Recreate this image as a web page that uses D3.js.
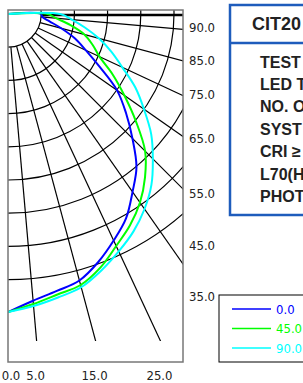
<!DOCTYPE html>
<html><head><meta charset="utf-8">
<script src="https://cdn.jsdelivr.net/npm/d3@7"></script>
<style>
html,body{margin:0;padding:0;background:#fff;overflow:hidden}
svg{display:block}
.ax{font-family:"Liberation Sans Narrow","Arial Narrow","DejaVu Sans Condensed",sans-serif;font-size:13px;fill:#222}
.info{font-family:"Liberation Sans",Arial,sans-serif;font-weight:bold;fill:#222}
</style></head><body>
<script>
// ---- data ----
const gammaAngles = [0,5,10,15,20,25,30,35,40,45,50,55,60,65,70,75,80,85,90];
const series0 = [89.8,86.7,84.7,83.1,79.5,75.3,71.1,65.4,60.2,53.0,46.4,40.1,31.9,25.9,21.4,16.6,12.7,10.4,9.9];
const series45 = [89.8,87.7,85.8,84.5,81.3,77.1,73.5,69.3,64.2,58.4,50.3,42.8,36.4,30.4,27.1,23.8,19.0,14.5,12.0];
const series90 = [89.8,88.3,86.7,85.2,82.2,78.9,75.6,71.7,67.2,61.7,56.3,50.0,44.3,38.0,33.1,28.3,23.5,19.3,15.7];
const seriesNames = ["0.0","45.0","90.0"];
const seriesColors = ["#0000ff","#00ff00","#00ffff"];
const ringValues = [10,20,30,40,50,60,70,80];
const spokeAngles = [5,15,25,35,45,55,65,75,85];
const rightLabels = [90,85,75,65,55,45,35];
const bottomLabels = [0,5,15,25];
const titleText = "CIT20";
const infoLines = ["TEST","LED T","NO. O","SYST","CRI ≥","L70(H","PHOT"];

// ---- layout ----
const W=303,H=383;
const cx=8, cy=14;
const frame={x0:8,y0:10,x1:183,y1:362};
const clipBottom=341;
const svg=d3.select("body").append("svg").attr("width",W).attr("height",H);

const r=d3.scaleLinear().domain([0,10]).range([0,33.2]);
const rad=g=>g*Math.PI/180;

svg.append("clipPath").attr("id","plotclip").append("rect")
  .attr("x",frame.x0).attr("y",frame.y0).attr("width",frame.x1-frame.x0).attr("height",clipBottom-frame.y0);

const plot=svg.append("g").attr("clip-path","url(#plotclip)");
const g=plot.append("g").attr("transform",`translate(${cx},${cy})`);

// rings
g.selectAll("circle.ring").data(ringValues).join("circle")
  .attr("r",d=>r(d)).attr("fill","none").attr("stroke","#000").attr("stroke-width",1.2);

// spokes
const r0=r(ringValues[0]), rMax=r(200);
g.selectAll("line.spoke").data(spokeAngles).join("line")
  .attr("x1",d=>r0*Math.sin(rad(d))).attr("y1",d=>r0*Math.cos(rad(d)))
  .attr("x2",d=>rMax*Math.sin(rad(d))).attr("y2",d=>rMax*Math.cos(rad(d)))
  .attr("stroke","#000").attr("stroke-width",1.2);
// 90 deg line (thick)
g.append("line").attr("x1",r0).attr("y1",1).attr("x2",rMax).attr("y2",1)
  .attr("stroke","#000").attr("stroke-width",2.6);

// curves
const allSeries=[series0,series45,series90];
const lineGen=d3.lineRadial()
  .angle(d=>Math.PI-rad(d[0])).radius(d=>r(d[1])).curve(d3.curveCatmullRom.alpha(0.5));
allSeries.forEach((s,i)=>{
  const pts=gammaAngles.map((a,j)=>[a,s[j]]);
  pts.push([90,0]);
  g.append("path").attr("d",lineGen(pts)).attr("fill","none")
   .attr("stroke",seriesColors[i]).attr("stroke-width",2);
});

// frame
svg.append("rect").attr("x",frame.x0).attr("y",frame.y0)
  .attr("width",frame.x1-frame.x0).attr("height",frame.y1-frame.y0)
  .attr("fill","none").attr("stroke","#777").attr("stroke-width",1.5);

// right labels (piecewise scale)
const yRight=d3.scaleLinear().domain(rightLabels).range([27,60,94,138,193,245,296]);
svg.append("g").attr("transform",`translate(${frame.x1},0)`)
  .call(d3.axisRight(yRight).tickValues(rightLabels).tickSize(0).tickPadding(6).tickFormat(d3.format(".1f")))
  .call(a=>{a.select(".domain").remove();a.selectAll("text").attr("class","ax").attr("font-size",null).attr("font-family",null).attr("fill",null);});

// bottom labels at spoke end positions
const xBottom=d=>cx+(clipBottom-cy)*Math.tan(rad(d));
svg.append("g").selectAll("text").data(bottomLabels).join("text")
  .attr("class","ax").attr("x",d=>d===0?xBottom(d)+3:xBottom(d)-1).attr("y",375)
  .attr("dy","0.35em").attr("text-anchor","middle").text(d3.format(".1f"));

// info box
const ib=svg.append("g");
ib.append("rect").attr("x",230).attr("y",5).attr("width",90).attr("height",210)
  .attr("fill","#fff").attr("stroke","#1e5cbc").attr("stroke-width",2.5);
ib.append("line").attr("x1",230).attr("x2",320).attr("y1",43).attr("y2",43)
  .attr("stroke","#1e5cbc").attr("stroke-width",2.5);
ib.append("text").attr("class","info").attr("x",252).attr("y",24).attr("dy","0.35em")
  .attr("font-size",18).text(titleText);
ib.selectAll("text.l").data(infoLines).join("text").attr("class","info l")
  .attr("x",260).attr("y",(d,i)=>62+i*22.4).attr("dy","0.35em").attr("font-size",16).text(d=>d);

// legend
const lg=svg.append("g");
lg.append("rect").attr("x",219).attr("y",295).attr("width",100).attr("height",67)
  .attr("fill","#fff").attr("stroke","#000").attr("stroke-width",1);
seriesNames.forEach((n,i)=>{
  const y=309+i*19.5;
  lg.append("line").attr("x1",232).attr("x2",271).attr("y1",y).attr("y2",y)
    .attr("stroke",seriesColors[i]).attr("stroke-width",1.3);
  lg.append("text").attr("class","ax").attr("x",276).attr("y",y).attr("dy","0.35em")
    .style("fill",seriesColors[i]).attr("font-size",12).text(n);
});
</script>
</body></html>
